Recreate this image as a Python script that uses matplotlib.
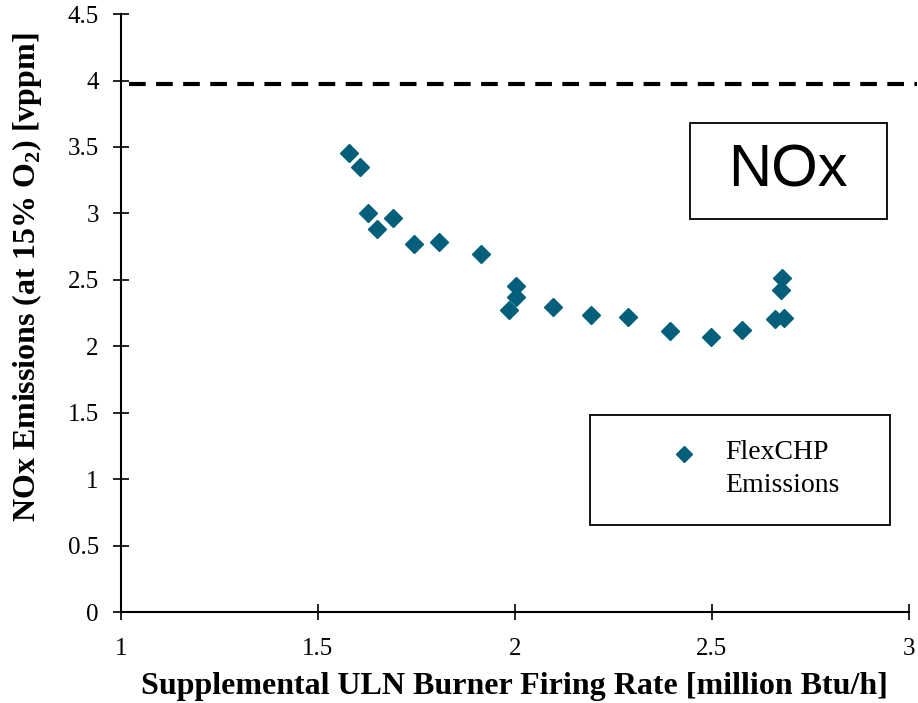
import matplotlib
matplotlib.use("Agg")
import matplotlib.pyplot as plt
from matplotlib.patches import Rectangle

# Data
firing_rate = [1.579, 1.607, 1.626, 1.690, 1.650, 1.744, 1.807, 1.914, 2.003, 2.003,
               1.984, 2.096, 2.194, 2.286, 2.393, 2.498, 2.576, 2.661, 2.682, 2.676, 2.679]
nox = [3.451, 3.351, 3.000, 2.962, 2.884, 2.767, 2.782, 2.692, 2.453, 2.368,
       2.270, 2.297, 2.235, 2.222, 2.114, 2.069, 2.124, 2.202, 2.210, 2.423, 2.511]
limit_value = 3.97
x_ticks = [1, 1.5, 2, 2.5, 3]
x_ticklabels = ["1", "1.5", "2", "2.5", "3"]
y_ticks = [0, 0.5, 1, 1.5, 2, 2.5, 3, 3.5, 4, 4.5]
y_ticklabels = ["0", "0.5", "1", "1.5", "2", "2.5", "3", "3.5", "4", "4.5"]
series_label = "FlexCHP\nEmissions"

serif = ["Liberation Serif", "DejaVu Serif"]
marker_color = "#04607A"

fig = plt.figure(figsize=(9.18, 7.03), dpi=100)
ax = fig.add_axes([0.1318, 0.1294, 0.990 - 0.1318, 0.980 - 0.1294])

ax.plot(firing_rate, nox, linestyle="none", marker="D", markersize=9,
        color=marker_color, zorder=3)
ax.plot([1.02, 3.02], [limit_value, limit_value], linestyle=(0, (4, 2.5)),
        color="black", linewidth=3, clip_on=False, zorder=2)

ax.set_xlim(1, 3)
ax.set_ylim(0, 4.5)
ax.set_xticks(x_ticks)
ax.set_xticklabels(x_ticklabels, fontfamily=serif, fontsize=18)
ax.set_yticks(y_ticks)
ax.set_yticklabels(y_ticklabels, fontfamily=serif, fontsize=18)
ax.tick_params(axis="x", direction="inout", length=12, width=1.2, pad=13)
ax.tick_params(axis="y", direction="inout", length=12, width=1.2, pad=10)

for s in ["top", "right"]:
    ax.spines[s].set_visible(False)
for s in ["left", "bottom"]:
    ax.spines[s].set_linewidth(1.5)

ax.set_xlabel("Supplemental ULN Burner Firing Rate [million Btu/h]",
              fontfamily=serif, fontweight="bold", fontsize=23, labelpad=8)
ax.set_ylabel("NOx Emissions (at 15% O$_\\mathregular{2}$) [vppm]",
              fontfamily=serif, fontweight="bold", fontsize=23)
ax.yaxis.set_label_coords(-0.098, 0.56)

# NOx label box
ax.add_patch(Rectangle((0.722, 0.657), 0.25, 0.1605, transform=ax.transAxes,
                       facecolor="white", edgecolor="black", linewidth=1.3,
                       clip_on=False, zorder=4))
ax.text(0.847, 0.7375, "NOx", transform=ax.transAxes, ha="center", va="center",
        fontfamily=["Liberation Sans", "DejaVu Sans"], fontsize=43, zorder=5)

# Legend box (drawn manually to match layout)
ax.add_patch(Rectangle((0.595, 0.1455), 0.381, 0.184, transform=ax.transAxes,
                       facecolor="white", edgecolor="black", linewidth=1.3,
                       clip_on=False, zorder=4))
ax.plot([0.7145], [0.264], transform=ax.transAxes, linestyle="none", marker="D",
        markersize=8, color=marker_color, clip_on=False, zorder=5)
ax.text(0.767, 0.239, series_label, transform=ax.transAxes, ha="left", va="center",
        fontfamily=serif, fontsize=20, linespacing=1.4, zorder=5)

fig.savefig("out.png", dpi=100)
